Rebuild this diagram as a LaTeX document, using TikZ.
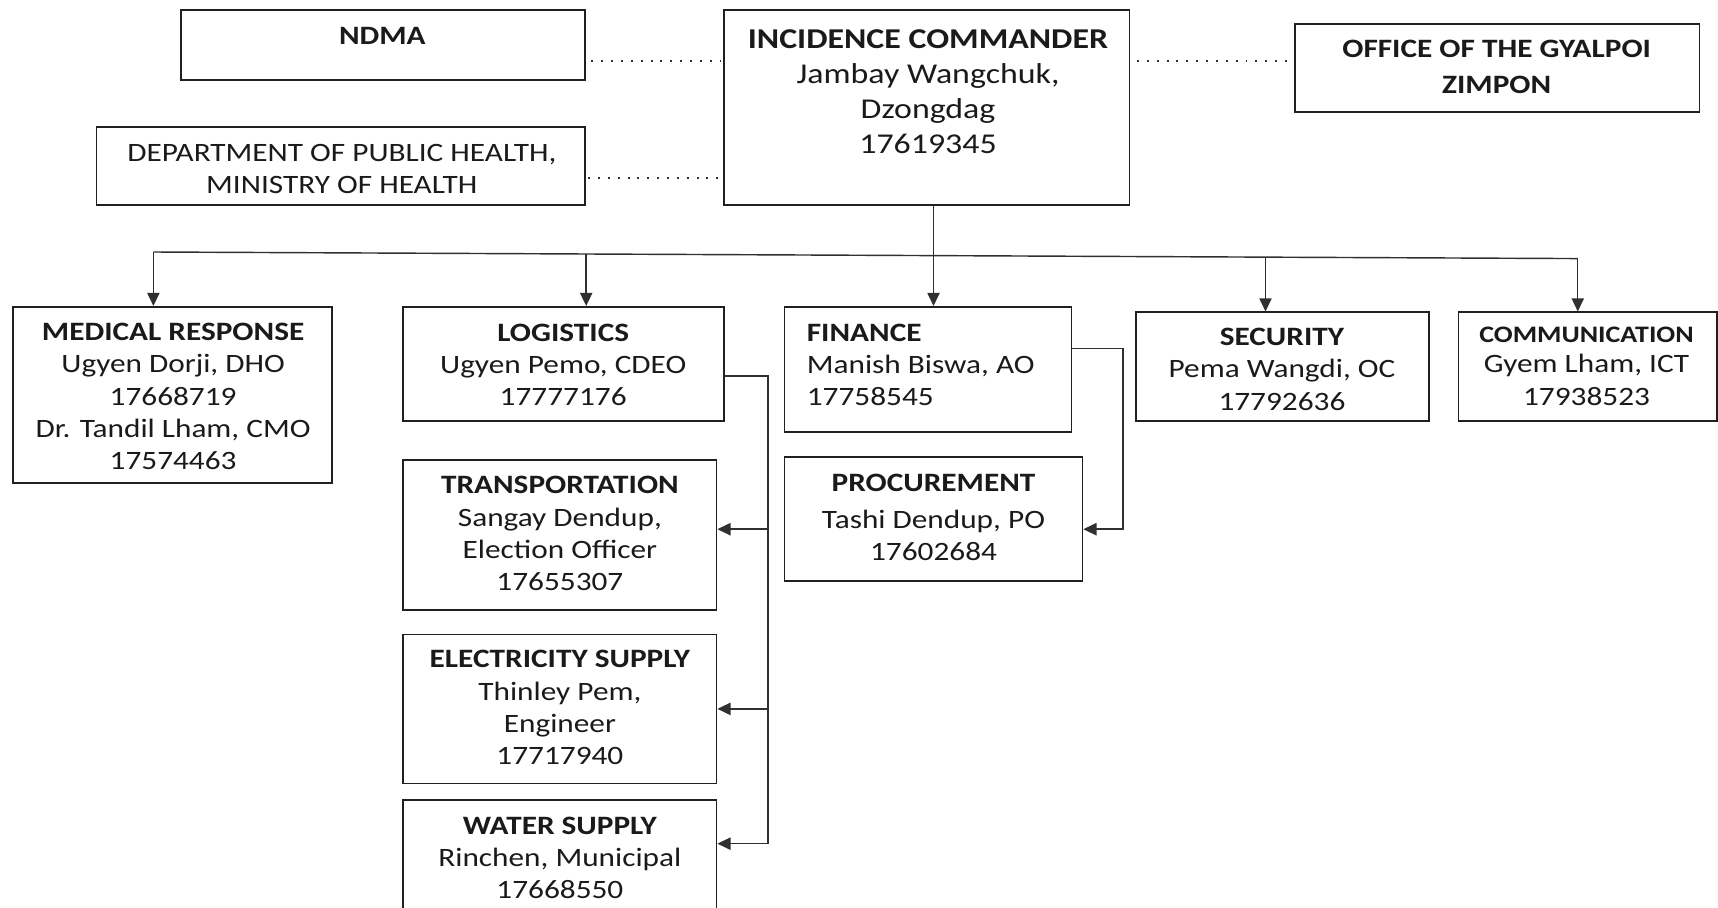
\documentclass[tikz,border=0pt]{standalone}
\usepackage{fontspec}
\setmainfont{Carlito}[FakeStretch=1.18]
\usetikzlibrary{arrows.meta,fit}
\definecolor{boxc}{HTML}{202020}
\definecolor{txtc}{HTML}{1A1A1A}
\definecolor{connc}{HTML}{303030}
\newcommand\fbase{\fontsize{12.1}{14.75}\selectfont}
\newcommand\fcmd{\fontsize{13.1}{16}\selectfont}
\newcommand\foff{\fontsize{12.1}{16.5}\selectfont}
\newcommand\fcomm{\fontsize{10.8}{14}\selectfont}
\begin{document}
\begin{tikzpicture}[x=0.5pt,y=-0.5pt,
  box/.style={draw=boxc,line width=0.75pt,inner sep=0pt},
  txt/.style={align=center,inner sep=0pt,text=txtc,font=\fbase},
  conn/.style={draw=connc,line width=0.65pt},
  arr/.style={conn,-{Triangle[length=6pt,width=5.6pt]}},
  dotl/.style={draw=connc,line width=0.8pt,dash pattern=on 0.9pt off 3.6pt}]
\useasboundingbox (0,0) rectangle (1568,828.7);
\clip (0,0) rectangle (1568,828.7);
% boxes
\node[box,fit={(165,9) (534,73)}] (ndma) {};
\node[box,fit={(88,116) (534,187)}] (dept) {};
\node[box,fit={(661,9) (1031,187)}] (cmd) {};
\node[box,fit={(1182,22) (1551,102)}] (off) {};
\node[box,fit={(12,280) (303,441)}] (med) {};
\node[box,fit={(368,280) (661,384)}] (log) {};
\node[box,fit={(716,280) (978,394)}] (fin) {};
\node[box,fit={(1037,285) (1304,384)}] (sec) {};
\node[box,fit={(1331,285) (1567,384)}] (com) {};
\node[box,fit={(716,417) (988,530)}] (proc) {};
\node[box,fit={(368,420) (654,557)}] (trans) {};
\node[box,fit={(368,579) (654,715)}] (elec) {};
\node[box,fit={(368,730) (654,860)}] (wat) {};
% texts
\node[txt] (ndmat) at (349,33) {\bfseries NDMA};
\node[txt] (deptt) at (312,154) {DEPARTMENT OF PUBLIC HEALTH,\\MINISTRY OF HEALTH};
\node[txt,font=\fcmd] (cmdt) at (847,84) {\bfseries INCIDENCE COMMANDER\\Jambay Wangchuk,\\Dzongdag\\17619345};
\node[txt,font=\foff] (offt) at (1366,61) {\bfseries OFFICE OF THE GYALPOI\\\bfseries ZIMPON};
\node[txt] (medt) at (158,362) {\bfseries MEDICAL RESPONSE\\Ugyen Dorji, DHO\\17668719\\Dr. Tandil Lham, CMO\\17574463};
\node[txt] (logt) at (514,333) {\bfseries LOGISTICS\\Ugyen Pemo, CDEO\\17777176};
\node[txt,align=left,anchor=west] (fint) at (736,333) {\bfseries FINANCE\\Manish Biswa, AO\\17758545};
\node[txt] (sect) at (1170,337) {\bfseries SECURITY\\Pema Wangdi, OC\\17792636};
\node[txt] (comt) at (1448,334) {{\fcomm\bfseries COMMUNICATION}\\[-0.8pt]Gyem Lham, ICT\\17938523};
\node[txt] (proct) at (852,472) {\bfseries PROCUREMENT\\[2.2pt]Tashi Dendup, PO\\17602684};
\node[txt] (transt) at (511,487) {\bfseries TRANSPORTATION\\Sangay Dendup,\\Election Officer\\17655307};
\node[txt] (elect) at (511,646) {\bfseries ELECTRICITY SUPPLY\\Thinley Pem,\\Engineer\\17717940};
\node[txt] (watt) at (511,783) {\bfseries WATER SUPPLY\\Rinchen, Municipal\\17668550};
% dotted links
\coordinate (d1) at (600,55.7);
\coordinate (d2) at (600,162.7);
\coordinate (d3) at (1100,55.7);
\draw[dotl,shorten <=2.5pt,shorten >=1.5pt] (d1 -| ndma.east) -- (d1 -| cmd.west);
\draw[dotl,shorten <=1pt,shorten >=1.5pt] (d2 -| dept.east) -- (d2 -| cmd.west);
\draw[dotl,shorten <=3pt,shorten >=1.5pt] (d3 -| cmd.east) -- (d3 -| off.west);
% bus
\coordinate (b1) at (140,230);
\coordinate (b2) at (535,231.8);
\coordinate (b3) at (852,233.3);
\coordinate (b4) at (1155,234.7);
\coordinate (b5) at (1440,236);
\draw[conn] (b1) -- (b5);
\draw[arr] (b1) -- (b1 |- med.north);
\draw[arr] (b2) -- (b2 |- log.north);
\draw[arr] (b3 |- cmd.south) -- (b3 |- fin.north);
\draw[arr] (b4) -- (b4 |- sec.north);
\draw[arr] (b5) -- (b5 |- com.north);
% logistics branch
\coordinate (la) at (701,343);
\coordinate (ta) at (701,483);
\coordinate (ea) at (701,647);
\coordinate (wa) at (701,770);
\draw[conn] (la -| log.east) -- (la) -- (wa);
\draw[arr] (ta) -- (ta -| trans.east);
\draw[arr] (ea) -- (ea -| elec.east);
\draw[arr] (wa) -- (wa -| wat.east);
% finance branch
\coordinate (fa) at (1025,318);
\coordinate (fb) at (1025,483);
\draw[arr] (fa -| fin.east) -- (fa) -- (fb) -- (fb -| proc.east);
\end{tikzpicture}
\end{document}
